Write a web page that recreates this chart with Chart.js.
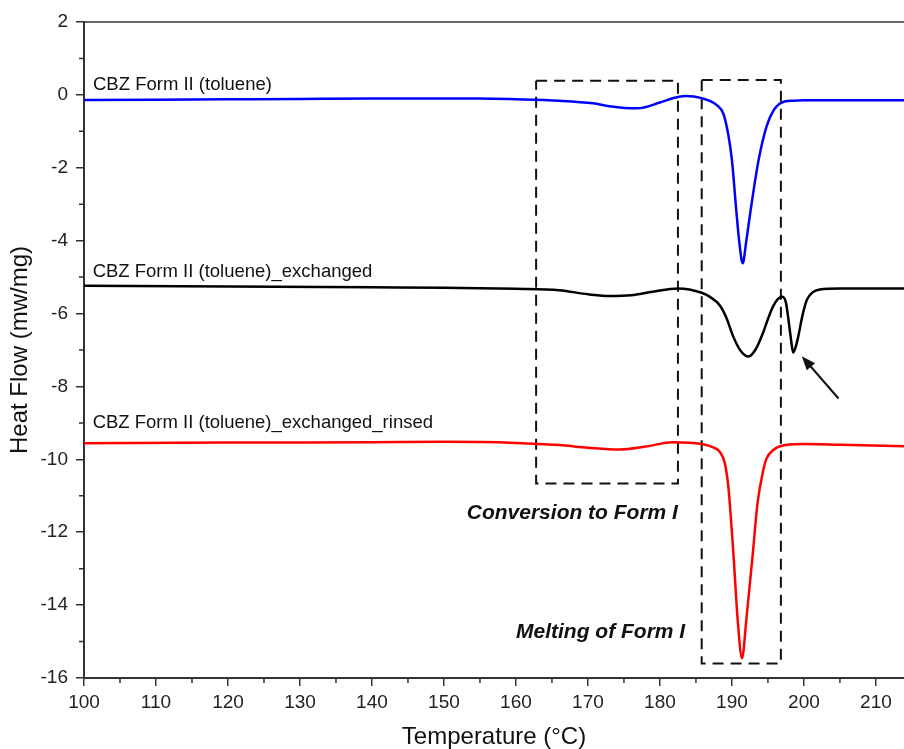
<!DOCTYPE html>
<html lang="en">
<head>
    <meta charset="UTF-8">
    <title>DSC</title>
    <style>
        body { margin: 0; background: white; }
        #chart { display: block; }
    </style>
</head>
<body>
    <canvas id="chart" width="904" height="749"></canvas>
<script src="https://cdn.jsdelivr.net/npm/chart.js@4"></script>
<script type="text/javascript">
    // temperatures (°C) and heat flow (mw/mg)
    var blueT = [100, 110, 120, 130, 140, 150, 155, 160, 166, 170.7, 173, 176.8, 180, 182, 183.5, 185.8, 187.9, 188.8, 189.5, 190.0, 190.6, 191.0, 191.5, 192.0, 192.6, 193.7, 194.8, 195.8, 196.9, 198.5, 200, 205, 214];
    var blueHF = [-0.14, -0.13, -0.12, -0.11, -0.10, -0.10, -0.10, -0.12, -0.16, -0.23, -0.31, -0.37, -0.21, -0.08, -0.03, -0.09, -0.28, -0.51, -1.1, -1.79, -3.16, -4.0, -4.62, -4.0, -3.16, -1.79, -0.87, -0.42, -0.21, -0.16, -0.15, -0.15, -0.15];

    var blackT = [100, 120, 140, 150, 160, 166, 170, 173, 176, 179, 182.5, 185.8, 187, 188.3, 189.2, 190.2, 191.2, 192.3, 193.3, 194.3, 195.0, 195.7, 196.4, 197.0, 197.5, 197.8, 198.2, 198.5, 198.8, 199.2, 199.8, 200.4, 201.2, 202.2, 205, 214];
    var blackHF = [-5.24, -5.26, -5.28, -5.29, -5.32, -5.36, -5.47, -5.52, -5.50, -5.40, -5.31, -5.43, -5.55, -5.77, -6.1, -6.64, -7.02, -7.18, -6.98, -6.54, -6.15, -5.81, -5.6, -5.54, -5.7, -6.09, -6.7, -7.07, -6.95, -6.64, -6.05, -5.63, -5.42, -5.34, -5.31, -5.31];

    var redT = [100, 120, 140, 150, 160, 166, 170, 174.4, 178, 181.8, 185.8, 187.5, 188.3, 189.0, 189.5, 190.2, 190.8, 191.4, 192.0, 192.9, 193.55, 194.35, 194.8, 195.7, 196.7, 199.7, 205, 214];
    var redHF = [-9.56, -9.54, -9.53, -9.52, -9.55, -9.61, -9.68, -9.73, -9.65, -9.53, -9.58, -9.68, -9.79, -10.1, -10.75, -12.58, -14.41, -15.46, -14.4, -12.58, -11.21, -10.3, -9.98, -9.75, -9.64, -9.58, -9.6, -9.64];

    // dashed boxes: [T left, T right, HF top, HF bottom]
    var conversionBox = [162.8, 182.5, 0.39, -10.66];
    var meltingBox = [185.8, 196.8, 0.41, -15.6];

    // arrow: tail then head, in data units
    var arrowT = [204.8, 199.7];
    var arrowHF = [-8.33, -7.17];

    var xMin = 100, xMax = 213.9, xStep = 10;
    var yMin = -16, yMax = 2, yStep = 2;

    var seriesLabels = ['CBZ Form II (toluene)', 'CBZ Form II (toluene)_exchanged', 'CBZ Form II (toluene)_exchanged_rinsed'];
    var boxLabels = ['Conversion to Form I', 'Melting of Form I'];

    var FONT = '"Liberation Sans", Arial, sans-serif';

    function toPoints(xs, ys) {
        return xs.map(function (x, i) { return { x: x, y: ys[i] }; });
    }

    function boxPoints(b) {
        return [{ x: b[0], y: b[2] }, { x: b[1], y: b[2] }, { x: b[1], y: b[3] }, { x: b[0], y: b[3] }, { x: b[0], y: b[2] }];
    }

    function curve(label, xs, ys, color) {
        return {
            label: label,
            data: toPoints(xs, ys),
            borderColor: color,
            borderWidth: 2.5,
            pointRadius: 0,
            fill: false,
            cubicInterpolationMode: 'monotone'
        };
    }

    function dashed(label, b) {
        return {
            label: label,
            data: boxPoints(b),
            borderColor: '#111',
            borderWidth: 2,
            borderDash: [11, 7],
            pointRadius: 0,
            tension: 0,
            fill: false
        };
    }

    var decorPlugin = {
        id: 'decor',
        afterDatasetsDraw: function (chart) {
            var ctx = chart.ctx;
            var xs = chart.scales.x, ys = chart.scales.y;
            var area = chart.chartArea;
            ctx.save();

            // top frame line
            ctx.strokeStyle = '#333';
            ctx.lineWidth = 1.5;
            ctx.beginPath();
            ctx.moveTo(area.left, area.top);
            ctx.lineTo(area.right, area.top);
            ctx.stroke();

            // minor ticks
            ctx.lineWidth = 1.5;
            ctx.beginPath();
            for (var t = xMin + xStep / 2; t < xMax; t += xStep) {
                var px = xs.getPixelForValue(t);
                ctx.moveTo(px, area.bottom);
                ctx.lineTo(px, area.bottom + 5);
            }
            for (var v = yMin + yStep / 2; v < yMax; v += yStep) {
                var py = ys.getPixelForValue(v);
                ctx.moveTo(area.left, py);
                ctx.lineTo(area.left - 5, py);
            }
            ctx.stroke();

            // arrow
            var x0 = xs.getPixelForValue(arrowT[0]), y0 = ys.getPixelForValue(arrowHF[0]);
            var x1 = xs.getPixelForValue(arrowT[1]), y1 = ys.getPixelForValue(arrowHF[1]);
            var ang = Math.atan2(y1 - y0, x1 - x0);
            ctx.strokeStyle = '#111';
            ctx.fillStyle = '#111';
            ctx.lineWidth = 2;
            ctx.beginPath();
            ctx.moveTo(x0, y0);
            ctx.lineTo(x1 - 8 * Math.cos(ang), y1 - 8 * Math.sin(ang));
            ctx.stroke();
            ctx.beginPath();
            ctx.moveTo(x1, y1);
            ctx.lineTo(x1 - 14 * Math.cos(ang) + 5.5 * Math.sin(ang), y1 - 14 * Math.sin(ang) - 5.5 * Math.cos(ang));
            ctx.lineTo(x1 - 14 * Math.cos(ang) - 5.5 * Math.sin(ang), y1 - 14 * Math.sin(ang) + 5.5 * Math.cos(ang));
            ctx.closePath();
            ctx.fill();

            // series labels
            ctx.fillStyle = '#111';
            ctx.textBaseline = 'middle';
            ctx.textAlign = 'left';
            ctx.font = '18.5px ' + FONT;
            ctx.fillText(seriesLabels[0], xs.getPixelForValue(101.25), ys.getPixelForValue(0.27));
            ctx.fillText(seriesLabels[1], xs.getPixelForValue(101.2), ys.getPixelForValue(-4.85));
            ctx.fillText(seriesLabels[2], xs.getPixelForValue(101.2), ys.getPixelForValue(-9.0));

            // box labels
            ctx.font = 'italic bold 21px ' + FONT;
            ctx.textAlign = 'right';
            ctx.fillText(boxLabels[0], xs.getPixelForValue(182.5), ys.getPixelForValue(-11.47));
            ctx.fillText(boxLabels[1], xs.getPixelForValue(183.5), ys.getPixelForValue(-14.73));

            ctx.restore();
        }
    };

    var bgPlugin = {
        id: 'bg',
        beforeDraw: function (chart) {
            var ctx = chart.ctx;
            ctx.save();
            ctx.fillStyle = 'white';
            ctx.fillRect(0, 0, chart.width, chart.height);
            ctx.restore();
        }
    };

    var ctx = document.getElementById('chart').getContext('2d');
    var chart = new Chart(ctx, {
        type: 'line',
        data: {
            datasets: [
                curve(seriesLabels[0], blueT, blueHF, '#0000ff'),
                curve(seriesLabels[1], blackT, blackHF, '#000000'),
                curve(seriesLabels[2], redT, redHF, '#ff0000'),
                dashed(boxLabels[0], conversionBox),
                dashed(boxLabels[1], meltingBox)
            ]
        },
        options: {
            responsive: false,
            animation: false,
            layout: { padding: { top: 22, right: 0, left: 0, bottom: 0 } },
            plugins: {
                legend: { display: false },
                tooltip: { enabled: false }
            },
            scales: {
                x: {
                    type: 'linear',
                    min: xMin,
                    max: xMax,
                    afterFit: function (scale) { scale.height = 71; },
                    ticks: {
                        stepSize: xStep,
                        includeBounds: false,
                        autoSkip: false,
                        maxRotation: 0,
                        padding: 5,
                        color: '#222',
                        font: { family: FONT, size: 19 }
                    },
                    grid: { drawOnChartArea: false, tickLength: 8, color: '#333', lineWidth: 1.5 },
                    border: { color: '#333', width: 2 },
                    title: {
                        display: true,
                        text: 'Temperature (°C)',
                        color: '#111',
                        font: { family: FONT, size: 24 },
                        padding: { top: 0, bottom: -3 }
                    }
                },
                y: {
                    min: yMin,
                    max: yMax,
                    afterFit: function (scale) { scale.width = 84; },
                    ticks: {
                        stepSize: yStep,
                        padding: 8,
                        color: '#222',
                        font: { family: FONT, size: 19 }
                    },
                    grid: { drawOnChartArea: false, tickLength: 8, color: '#333', lineWidth: 1.5 },
                    border: { color: '#333', width: 2 },
                    title: {
                        display: true,
                        text: 'Heat Flow (mw/mg)',
                        color: '#111',
                        font: { family: FONT, size: 24 },
                        padding: { top: 6, bottom: 0 }
                    }
                }
            }
        },
        plugins: [bgPlugin, decorPlugin]
    });
</script>
</body>
</html>
